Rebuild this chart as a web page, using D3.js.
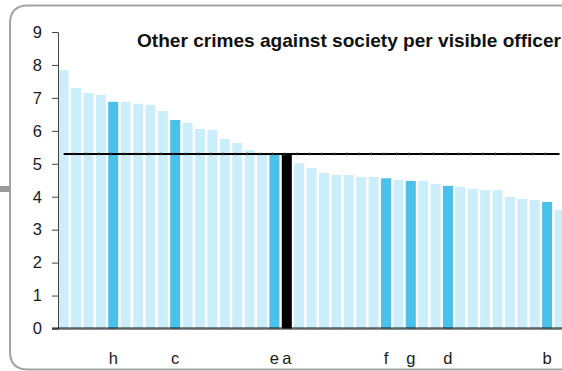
<!DOCTYPE html>
<html>
<head>
<meta charset="utf-8">
<script src="https://cdn.jsdelivr.net/npm/d3@7"></script>
<style>
  html, body { margin: 0; padding: 0; background: #fff; }
  svg { display: block; font-family: "Liberation Sans", Arial, sans-serif; }
</style>
</head>
<body>
<script>
// bar values, sorted high to low
const values = [7.85, 7.30, 7.15, 7.09, 6.88, 6.88, 6.82, 6.79, 6.60, 6.33,
  6.24, 6.06, 6.03, 5.75, 5.63, 5.42, 5.27, 5.29, 5.31, 5.02,
  4.87, 4.72, 4.66, 4.66, 4.60, 4.60, 4.56, 4.51, 4.48, 4.48,
  4.39, 4.33, 4.30, 4.24, 4.20, 4.20, 3.99, 3.93, 3.90, 3.84, 3.60];
// labels under the highlighted bars, "" for the rest
const labels = ["", "", "", "", "h", "", "", "", "", "c",
  "", "", "", "", "", "", "", "e", "a", "",
  "", "", "", "", "", "", "f", "", "g", "",
  "", "d", "", "", "", "", "", "", "", "b", ""];
// reference bar and level of the horizontal line
const referenceLabel = "a";
const referenceValue = 5.30;
const yTicks = [0, 1, 2, 3, 4, 5, 6, 7, 8, 9];
const title = "Other crimes against society per visible officer";

const W = 562, H = 371;
const lightBlue = "#cceefa", darkBlue = "#49c1eb";

const svg = d3.select("body").append("svg")
  .attr("width", W)
  .attr("height", H);

// rounded frame, open to the right
const fx = 10, fy = 5.5, fb = 369.5, r = 18;
svg.append("path")
  .attr("d", `M${W + 20},${fy} L${fx + r},${fy} Q${fx},${fy} ${fx},${fy + r}
    L${fx},${fb - r} Q${fx},${fb} ${fx + r},${fb} L${W + 20},${fb}`)
  .attr("fill", "none")
  .attr("stroke", "#a3a3a3")
  .attr("stroke-width", 2);
svg.append("rect")
  .attr("x", 0).attr("y", 186)
  .attr("width", 10).attr("height", 6)
  .attr("fill", "#9a9a9a");

const x = d3.scaleBand()
  .domain(d3.range(values.length))
  .range([58, 58 + values.length * 12.37])
  .paddingInner(0.19)
  .paddingOuter(0.05);

const y = d3.scaleLinear()
  .domain([0, 9])
  .range([328.5, 32]);

// bars
svg.append("g")
  .selectAll("rect")
  .data(values)
  .join("rect")
  .attr("x", (d, i) => x(i))
  .attr("y", (d) => y(d))
  .attr("width", x.bandwidth())
  .attr("height", (d) => y(0) - y(d))
  .attr("fill", (d, i) => labels[i] === referenceLabel ? "#000"
    : labels[i] ? darkBlue : lightBlue);

// y axis
const yAxis = svg.append("g")
  .attr("transform", "translate(58,0)")
  .call(d3.axisLeft(y).tickValues(yTicks).tickSize(6).tickPadding(10).tickSizeOuter(0));
yAxis.select(".domain").attr("stroke", "#444");
yAxis.selectAll(".tick line").attr("stroke", "#444");
yAxis.selectAll(".tick text")
  .attr("fill", "#1a1a1a")
  .style("font-size", "16.5px");

// baseline
svg.append("line")
  .attr("x1", 52).attr("x2", W)
  .attr("y1", y(0)).attr("y2", y(0))
  .attr("stroke", "#000")
  .attr("stroke-opacity", 0.6)
  .attr("stroke-width", 2.5);

// reference line across the bar centres
const centers = values.map((d, i) => x(i) + x.bandwidth() / 2);
svg.append("path")
  .datum(centers)
  .attr("d", d3.line().x((d) => d).y(() => y(referenceValue)))
  .attr("fill", "none")
  .attr("stroke", "#000")
  .attr("stroke-width", 2);
svg.append("g")
  .selectAll("line")
  .data(centers.slice(1, -1))
  .join("line")
  .attr("x1", (d) => d - 2).attr("x2", (d) => d - 2)
  .attr("y1", y(referenceValue) - 1.6).attr("y2", y(referenceValue) + 1.6)
  .attr("stroke", "#555")
  .attr("stroke-width", 0.8);

// category labels
svg.append("g")
  .selectAll("text")
  .data(labels)
  .join("text")
  .attr("x", (d, i) => x(i) + x.bandwidth() / 2)
  .attr("y", 364)
  .attr("text-anchor", "middle")
  .style("font-size", "16.5px")
  .attr("fill", "#1a1a1a")
  .text((d) => d);

// title
svg.append("text")
  .attr("x", 137)
  .attr("y", 46.5)
  .attr("textLength", 424)
  .attr("lengthAdjust", "spacingAndGlyphs")
  .style("font-size", "18.5px")
  .style("font-weight", "bold")
  .attr("fill", "#111")
  .text(title);
</script>
</body>
</html>
